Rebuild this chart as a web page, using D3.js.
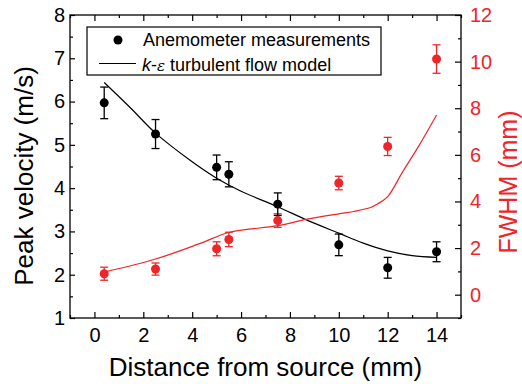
<!DOCTYPE html>
<html>
<head>
<meta charset="utf-8">
<script src="https://cdn.jsdelivr.net/npm/d3@7"></script>
<style>
  body { margin: 0; background: #fff; }
  svg text { font-family: "Liberation Sans", Arial, sans-serif; }
</style>
</head>
<body>
<div id="chart"></div>
<script>
// measured values
const distance = [0.4, 2.5, 5, 5.5, 7.5, 10, 12, 14];
const velocity = [5.97, 5.25, 4.48, 4.32, 3.63, 2.69, 2.16, 2.53];
const velocityErr = [0.365, 0.335, 0.285, 0.29, 0.26, 0.25, 0.24, 0.23];
const fwhm = [0.90, 1.10, 1.97, 2.37, 3.18, 4.79, 6.36, 10.11];
const fwhmErr = [0.28, 0.26, 0.30, 0.31, 0.29, 0.29, 0.39, 0.61];

// k-epsilon model curves
const velModelX = [0.4, 1.5, 2.5, 3.9, 5, 6, 7.5, 8.7, 10, 11, 12, 13, 14];
const velModelY = [6.44, 5.84, 5.27, 4.65, 4.23, 3.93, 3.57, 3.26, 2.96, 2.73, 2.55, 2.44, 2.40];
const fwhmModelX = [0.4, 2.5, 4.3, 5.5, 7.5, 8.7, 10, 10.6, 11.3, 11.6, 12, 12.6, 13.3, 14];
const fwhmModelY = [0.97, 1.53, 2.19, 2.67, 2.96, 3.24, 3.47, 3.57, 3.74, 3.90, 4.21, 5.25, 6.43, 7.71];

const xTicks = [0, 2, 4, 6, 8, 10, 12, 14];
const xMinor = [-1, 1, 3, 5, 7, 9, 11, 13, 15];
const yLeftTicks = [1, 2, 3, 4, 5, 6, 7, 8];
const yLeftMinor = [1.5, 2.5, 3.5, 4.5, 5.5, 6.5, 7.5];
const yRightTicks = [0, 2, 4, 6, 8, 10, 12];
const yRightMinor = [-1, 1, 3, 5, 7, 9, 11];

const red = "#ee2529";
const width = 522, height = 384;
const margin = { top: 15, right: 61, bottom: 66, left: 70 };

const svg = d3.select("#chart").append("svg")
    .attr("width", width)
    .attr("height", height);

const x = d3.scaleLinear().domain([-1, 15]).range([margin.left, width - margin.right]);
const yL = d3.scaleLinear().domain([1, 8]).range([height - margin.bottom, margin.top]);
const yR = d3.scaleLinear().domain([-1, 12]).range([height - margin.bottom, margin.top]);

const bottomY = height - margin.bottom;
const rightX = width - margin.right;

function styleAxis(g, color) {
    g.select(".domain").remove();
    g.selectAll(".tick line").attr("stroke", "#000").attr("stroke-width", 1.2);
    g.selectAll(".tick text").attr("fill", color).attr("font-size", "20px");
}

// bottom
svg.append("g").attr("transform", `translate(0,${bottomY})`)
    .call(d3.axisBottom(x).tickValues(xTicks).tickSize(-6).tickPadding(10).tickFormat(d3.format("d")))
    .call(g => styleAxis(g, "#000"));
svg.append("g").attr("transform", `translate(0,${bottomY})`)
    .call(d3.axisBottom(x).tickValues(xMinor).tickSize(-3).tickFormat(""))
    .call(g => styleAxis(g, "#000"));
// top
svg.append("g").attr("transform", `translate(0,${margin.top})`)
    .call(d3.axisTop(x).tickValues(xTicks).tickSize(-6).tickFormat(""))
    .call(g => styleAxis(g, "#000"));
svg.append("g").attr("transform", `translate(0,${margin.top})`)
    .call(d3.axisTop(x).tickValues(xMinor).tickSize(-3).tickFormat(""))
    .call(g => styleAxis(g, "#000"));
// left
svg.append("g").attr("transform", `translate(${margin.left},0)`)
    .call(d3.axisLeft(yL).tickValues(yLeftTicks).tickSize(-5).tickPadding(5).tickFormat(d3.format("d")))
    .call(g => styleAxis(g, "#000"));
svg.append("g").attr("transform", `translate(${margin.left},0)`)
    .call(d3.axisLeft(yL).tickValues(yLeftMinor).tickSize(-3).tickFormat(""))
    .call(g => styleAxis(g, "#000"));
// right
svg.append("g").attr("transform", `translate(${rightX},0)`)
    .call(d3.axisRight(yR).tickValues(yRightTicks).tickSize(-6).tickPadding(9).tickFormat(d3.format("d")))
    .call(g => styleAxis(g, red));
svg.append("g").attr("transform", `translate(${rightX},0)`)
    .call(d3.axisRight(yR).tickValues(yRightMinor).tickSize(-3).tickFormat(""))
    .call(g => styleAxis(g, red));

// frame
svg.append("rect")
    .attr("x", margin.left).attr("y", margin.top)
    .attr("width", rightX - margin.left).attr("height", bottomY - margin.top)
    .attr("fill", "none").attr("stroke", "#000").attr("stroke-width", 1.3);

// axis titles
svg.append("text")
    .attr("x", (margin.left + rightX) / 2).attr("y", 376)
    .attr("text-anchor", "middle").attr("font-size", "26px")
    .text("Distance from source (mm)");
svg.append("text")
    .attr("transform", "translate(33,176) rotate(-90)")
    .attr("text-anchor", "middle").attr("font-size", "26px")
    .text("Peak velocity (m/s)");
svg.append("text")
    .attr("transform", "translate(517,182) rotate(-90)")
    .attr("text-anchor", "middle").attr("font-size", "25px").attr("fill", red)
    .text("FWHM (mm)");

// model lines
const line = d3.line().curve(d3.curveCatmullRom);
svg.append("path")
    .attr("d", line(velModelX.map((d, i) => [x(d), yL(velModelY[i])])))
    .attr("fill", "none").attr("stroke", "#000").attr("stroke-width", 1.2);
svg.append("path")
    .attr("d", line(fwhmModelX.map((d, i) => [x(d), yR(fwhmModelY[i])])))
    .attr("fill", "none").attr("stroke", red).attr("stroke-width", 1.2);

// points with error bars
function drawSeries(vals, errs, y, color) {
    const g = svg.append("g");
    distance.forEach((d, i) => {
        const cx = x(d);
        const top = y(vals[i] + errs[i]), bot = y(vals[i] - errs[i]);
        g.append("line").attr("x1", cx).attr("x2", cx).attr("y1", top).attr("y2", bot)
            .attr("stroke", color).attr("stroke-width", 1.3);
        [top, bot].forEach(yy => g.append("line")
            .attr("x1", cx - 4).attr("x2", cx + 4).attr("y1", yy).attr("y2", yy)
            .attr("stroke", color).attr("stroke-width", 1.3));
        g.append("circle").attr("cx", cx).attr("cy", y(vals[i])).attr("r", 4.5).attr("fill", color);
    });
}
drawSeries(fwhm, fwhmErr, yR, red);
drawSeries(velocity, velocityErr, yL, "#000");

// legend
const leg = svg.append("g");
leg.append("rect").attr("x", 87).attr("y", 27).attr("width", 294).attr("height", 48)
    .attr("fill", "#fff").attr("stroke", "#000").attr("stroke-width", 1.2);
leg.append("circle").attr("cx", 118).attr("cy", 40).attr("r", 4.5).attr("fill", "#000");
leg.append("text").attr("x", 143).attr("y", 46).attr("font-size", "18px").text("Anemometer measurements");
leg.append("line").attr("x1", 99).attr("x2", 136).attr("y1", 63.5).attr("y2", 63.5)
    .attr("stroke", "#000").attr("stroke-width", 1.2);
const t2 = leg.append("text").attr("x", 142).attr("y", 71).attr("font-size", "18px");
t2.append("tspan").attr("font-style", "italic").text("k");
t2.append("tspan").text("-");
t2.append("tspan").attr("font-style", "italic").attr("font-family", "DejaVu Serif").attr("font-size", "15px").text("ε");
t2.append("tspan").text(" turbulent flow model");
</script>
</body>
</html>
